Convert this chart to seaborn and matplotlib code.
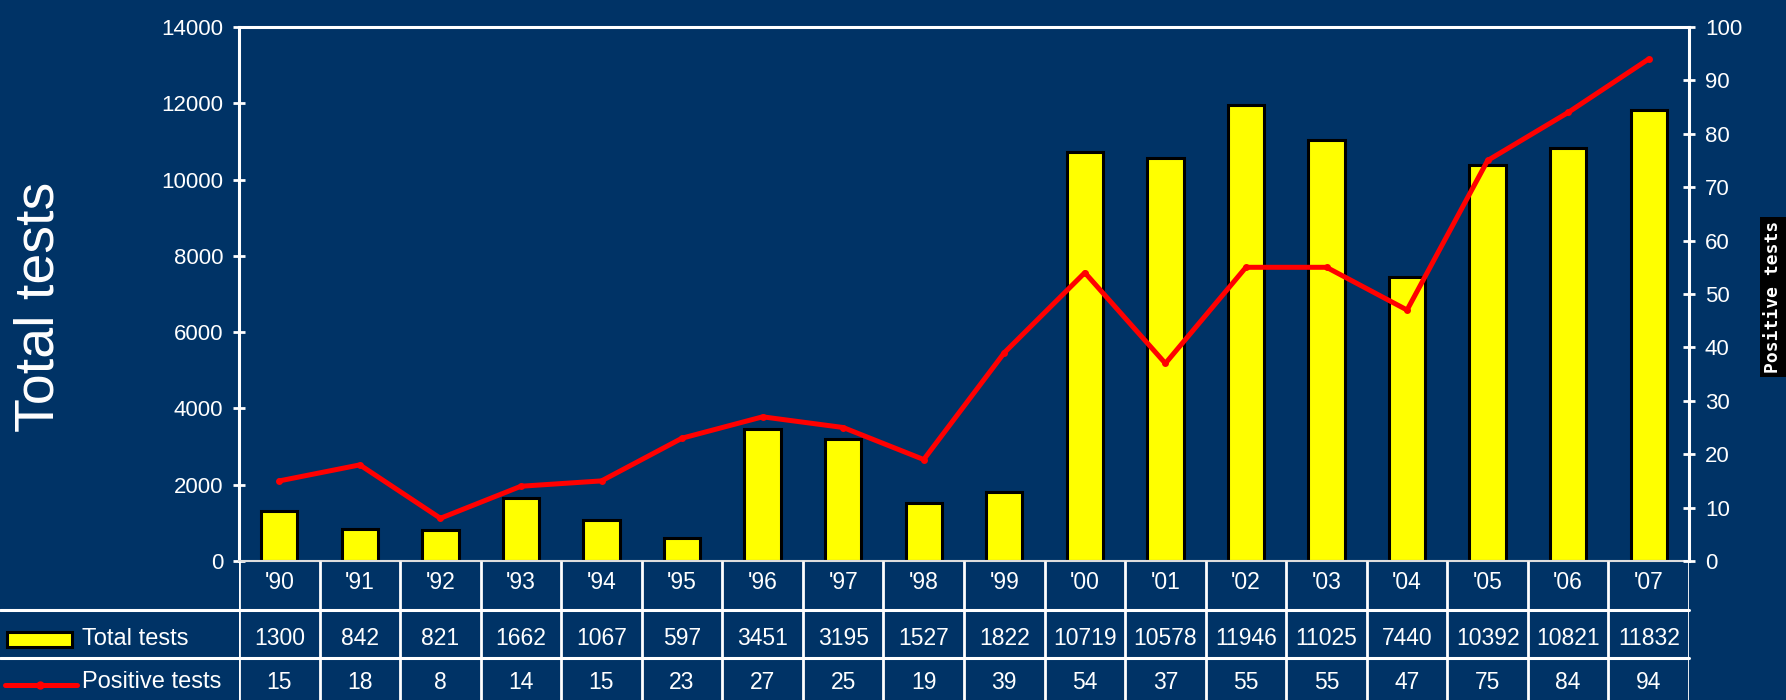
import numpy as np
import pandas as pd
import seaborn as sns
import matplotlib.pyplot as plt
import matplotlib.transforms as mtransforms
from matplotlib.patches import Rectangle

# values
years = ["'90", "'91", "'92", "'93", "'94", "'95", "'96", "'97", "'98",
         "'99", "'00", "'01", "'02", "'03", "'04", "'05", "'06", "'07"]
total_tests = [1300, 842, 821, 1662, 1067, 597, 3451, 3195, 1527,
               1822, 10719, 10578, 11946, 11025, 7440, 10392, 10821, 11832]
positive_tests = [15, 18, 8, 14, 15, 23, 27, 25, 19,
                  39, 54, 37, 55, 55, 47, 75, 84, 94]

df = pd.DataFrame({"year": years, "total": total_tests, "positive": positive_tests})

NAVY = "#003366"
sns.set_style("ticks")
plt.rcParams["font.family"] = ["Liberation Sans", "DejaVu Sans"]

W, H = 1786, 700
fig = plt.figure(figsize=(W / 100, H / 100), dpi=100, facecolor=NAVY)

# plot area and table area (pixel layout of the reference)
left, right, top, base = 239, 1689, 27, 561
ax = fig.add_axes([left / W, 1 - base / H, (right - left) / W, (base - top) / H])
tab = fig.add_axes([left / W, 0, (right - left) / W, (H - base) / H])
leg = fig.add_axes([0, 0, left / W, (H - base) / H])
ax.set_facecolor(NAVY)

# bars
sns.barplot(data=df, x="year", y="total", color="#FFFF00", edgecolor="black",
            linewidth=2.2, width=0.45, saturation=1, ax=ax)
ax.set_ylim(0, 14000)
ax.set_yticks(range(0, 14001, 2000))
ax.set_xlim(-0.5, len(years) - 0.5)
ax.set_xlabel("")
ax.set_ylabel("")
ax.tick_params(axis="x", length=0, labelbottom=False)
ax.tick_params(axis="y", colors="white", labelsize=16, direction="inout",
               length=9, width=2, pad=7)
for side in ["top", "left", "right"]:
    ax.spines[side].set_color("white")
    ax.spines[side].set_linewidth(2.2)
ax.spines["bottom"].set_color("#dddddd")
ax.spines["bottom"].set_linewidth(1.5)

# line on secondary axis
ax2 = ax.twinx()
sns.lineplot(x=np.arange(len(years)), y=df["positive"], color="#FF0000",
             linewidth=3.6, marker="o", markersize=5, markeredgewidth=0, ax=ax2)
ax2.set_ylim(0, 100)
ax2.set_yticks(range(0, 101, 10))
ax2.set_ylabel("")
ax2.tick_params(axis="y", colors="white", labelsize=16, direction="inout",
                length=9, width=2, pad=7)
for side in ["top", "left", "right", "bottom"]:
    ax2.spines[side].set_visible(False)

# data table below the plot
row_h = 48.5
n_rows = (H - base) / row_h
for a in (tab, leg):
    a.set_ylim(n_rows, 0)
    a.axis("off")
tab.set_xlim(-0.5, len(years) - 0.5)
leg.set_xlim(0, left)

tab.vlines(np.arange(len(years) + 1) - 0.5, 0, n_rows, color="white", lw=2)
blend = mtransforms.blended_transform_factory(fig.transFigure, tab.transData)
for y in (1, 2):
    tab.plot([0, right / W], [y, y], color="white", lw=2.2, transform=blend, clip_on=False)

txt = dict(color="white", fontsize=16.5, ha="center", va="center")
for i, (yr, t, p) in enumerate(zip(years, total_tests, positive_tests)):
    tab.text(i, 0.45, yr, **txt)
    tab.text(i, 1.6, str(t), **txt)
    tab.text(i, 2.5, str(p), **txt)

# row legend keys
leg.add_patch(Rectangle((7, 1.47), 65, 0.3, facecolor="#FFFF00", edgecolor="black", lw=2.2))
leg.text(82, 1.6, "Total tests", color="white", fontsize=17, va="center")
leg.plot([5, 77], [2.56, 2.56], color="#FF0000", lw=3.6)
leg.plot([40], [2.56], "o", color="#FF0000", markersize=5)
leg.text(82, 2.5, "Positive tests", color="white", fontsize=17, va="center")

# axis titles
fig.text(40 / W, 1 - 307 / H, "Total tests", rotation=90, color="white",
         fontsize=40, ha="center", va="center")
fig.text(1773 / W, 1 - 297 / H, "Positive tests", rotation=90, color="white",
         fontsize=13, fontweight="bold", family="DejaVu Sans Mono",
         ha="center", va="center",
         bbox=dict(facecolor="black", edgecolor="none", pad=3))

fig.savefig("out.png", dpi=100, facecolor=NAVY)
